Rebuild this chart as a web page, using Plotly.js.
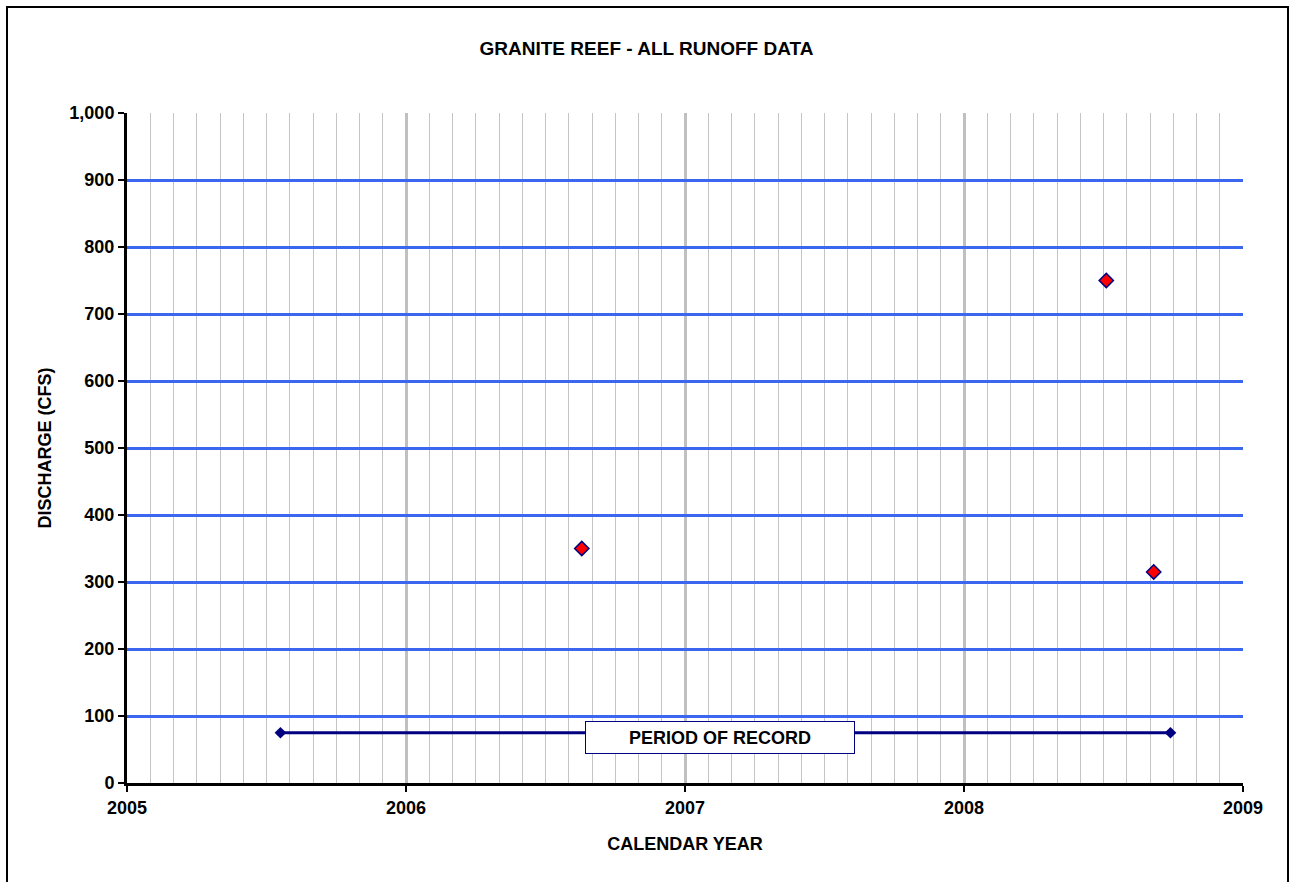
<!DOCTYPE html>
<html>
<head>
<meta charset="utf-8">
<script src="https://cdn.plot.ly/plotly-3.0.1.min.js"></script>
<style>html,body{margin:0;padding:0;background:#fff;}#chart{width:1293px;height:882px;}</style>
</head>
<body>
<div id="chart"></div>
<script>
// Runoff measurements (decimal year, discharge in CFS)
var measYears = [2006.63, 2008.51, 2008.68];
var measDischarge = [350, 750, 315];
// Period of record line
var recordYears = [2005.55, 2008.74];
var recordLevel = [75, 75];
var recordLabel = "PERIOD OF RECORD";
var xTicks = [2005, 2006, 2007, 2008, 2009];
var yTicks = [0, 100, 200, 300, 400, 500, 600, 700, 800, 900, 1000];

var fontFam = "Liberation Sans, Arial, sans-serif";

var traces = [
  {
    x: recordYears, y: recordLevel, type: "scatter", mode: "lines+markers",
    line: {color: "#000080", width: 3},
    marker: {symbol: "diamond", size: 9, color: "#000080"},
    hoverinfo: "skip", showlegend: false
  },
  {
    x: measYears, y: measDischarge, type: "scatter", mode: "markers",
    marker: {symbol: "diamond", size: 11, color: "#ff0000", line: {color: "#000080", width: 1.5}},
    showlegend: false
  }
];

var layout = {
  width: 1293, height: 882,
  margin: {l: 127, r: 50, t: 113, b: 99},
  paper_bgcolor: "#ffffff", plot_bgcolor: "#ffffff",
  font: {family: fontFam, color: "#000", size: 18},
  title: {text: "<b>GRANITE REEF - ALL RUNOFF DATA</b>", x: 0.5, xanchor: "center", y: 0.945, yanchor: "middle",
          font: {family: fontFam, size: 19, color: "#000"}},
  xaxis: {
    range: [2005, 2009], tickmode: "array", tickvals: xTicks,
    ticktext: xTicks.map(function(v){return "<b>" + v + "</b>";}),
    showline: true, linecolor: "#000", linewidth: 3,
    ticks: "outside", ticklen: 6, tickwidth: 2, tickcolor: "#000",
    showgrid: true, gridcolor: "#c0c0c0", gridwidth: 3,
    minor: {dtick: 1/12, showgrid: true, gridcolor: "#c4c4c4", gridwidth: 1, ticks: ""},
    zeroline: false, fixedrange: true,
    tickfont: {family: fontFam, size: 18, color: "#000"},
    title: {text: "<b>CALENDAR YEAR</b>", standoff: 21, font: {family: fontFam, size: 18, color: "#000"}}
  },
  yaxis: {
    range: [0, 1000], tickmode: "array", tickvals: yTicks,
    ticktext: yTicks.map(function(v){return "<b>" + v.toLocaleString("en-US") + "</b>";}),
    showline: true, linecolor: "#000", linewidth: 3,
    ticks: "outside", ticklen: 6, tickwidth: 2, tickcolor: "#000",
    showgrid: true, gridcolor: "#3a66f0", gridwidth: 3,
    zeroline: false, fixedrange: true,
    tickfont: {family: fontFam, size: 18, color: "#000"},
    title: {text: "<b>DISCHARGE (CFS)</b>", standoff: 14, font: {family: fontFam, size: 18, color: "#000"}}
  },
  annotations: [
    {
      x: 2007.125, y: 68, xref: "x", yref: "y",
      text: "<b>" + recordLabel + "</b>", showarrow: false,
      font: {family: fontFam, size: 18, color: "#000"},
      bgcolor: "#ffffff", bordercolor: "#000080", borderwidth: 1,
      width: 266, height: 29, align: "center"
    }
  ],
  shapes: [
    {
      type: "rect", xref: "paper", yref: "paper",
      x0: (7 - 127) / 1116, x1: (1288 - 127) / 1116,
      y0: (783 - 900) / 670, y1: (783 - 7) / 670,
      line: {color: "#000", width: 2}, fillcolor: "rgba(0,0,0,0)", layer: "above"
    }
  ]
};

Plotly.newPlot("chart", traces, layout, {displayModeBar: false, staticPlot: true});
</script>
</body>
</html>
